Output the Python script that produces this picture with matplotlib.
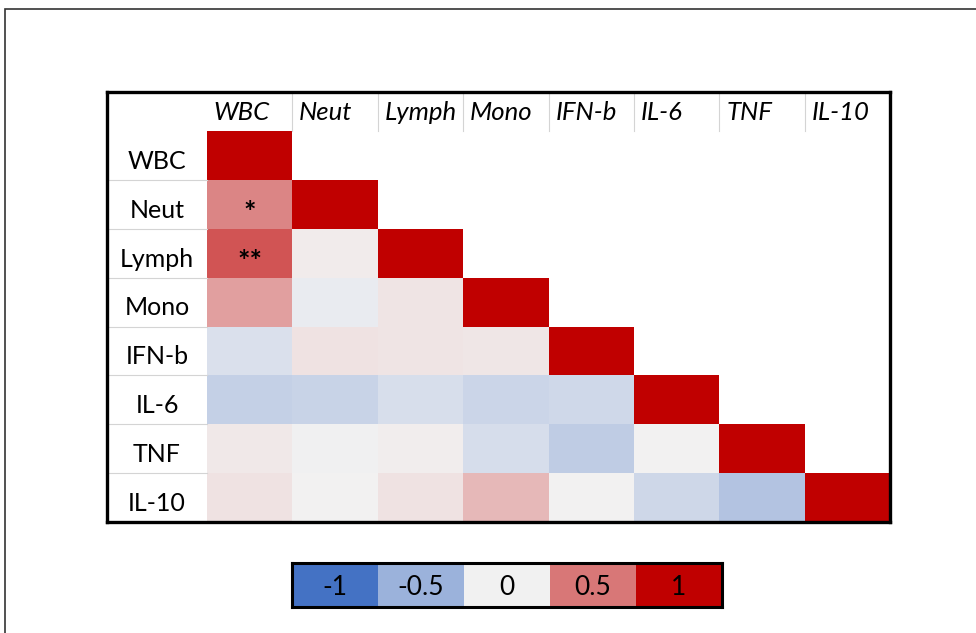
import numpy as np
import matplotlib.pyplot as plt
from matplotlib.colors import LinearSegmentedColormap
from matplotlib.patches import Rectangle

plt.rcParams['font.family'] = ['Lato', 'DejaVu Sans']

labels = ['WBC', 'Neut', 'Lymph', 'Mono', 'IFN-b', 'IL-6', 'TNF', 'IL-10']

# lower triangle of the correlation matrix, row by row
r_wbc = [1.0]
r_neut = [0.45, 1.0]
r_lymph = [0.65, 0.03, 1.0]
r_mono = [0.34, -0.05, 0.06, 1.0]
r_ifnb = [-0.14, 0.07, 0.06, 0.05, 1.0]
r_il6 = [-0.26, -0.24, -0.15, -0.22, -0.20, 1.0]
r_tnf = [0.04, -0.01, 0.02, -0.16, -0.29, 0.0, 1.0]
r_il10 = [0.07, 0.0, 0.07, 0.24, 0.0, -0.21, -0.36, 1.0]
rows = [r_wbc, r_neut, r_lymph, r_mono, r_ifnb, r_il6, r_tnf, r_il10]

# significance marks: (row, col, text)
stars = [(1, 0, '*'), (2, 0, '**')]

legend_vals = [-1, -0.5, 0, 0.5, 1]
legend_labels = ['-1', '-0.5', '0', '0.5', '1']

cmap = LinearSegmentedColormap.from_list('bwr_xl', ['#4472C4', '#F2F2F2', '#C00000'])

n = len(labels)
mat = np.full((n, n), np.nan)
for i, r in enumerate(rows):
    mat[i, :len(r)] = r
mat = np.ma.masked_invalid(mat)

W, H = 976, 633
fig = plt.figure(figsize=(W / 100, H / 100), dpi=100)

# outer frame (clipped on right/bottom like the screenshot)
fig.add_artist(Rectangle((5 / W, -0.05), 1.1, 1 - 9 / H + 0.05, transform=fig.transFigure,
                         fill=False, edgecolor='#333333', linewidth=1.2))

# table axes
left, right, top, bottom = 107, 890, 92, 522
ax = fig.add_axes([left / W, 1 - bottom / H, (right - left) / W, (bottom - top) / H])
cell_w = (right - 207) / n
lab_w = (207 - left) / cell_w
hdr_h = 0.8
ax.set_xlim(-lab_w, n)
ax.set_ylim(n, -hdr_h)
ax.pcolormesh(np.arange(n + 1), np.arange(n + 1), mat, cmap=cmap, vmin=-1, vmax=1)
ax.set_xticks([])
ax.set_yticks([])
for s in ax.spines.values():
    s.set_linewidth(2.4)
    s.set_color('black')

for i, lab in enumerate(labels):
    ax.text(-lab_w / 2, i + 0.62, lab, ha='center', va='center', fontsize=18)
    ax.text(i + 0.08, -hdr_h / 2 + 0.02, lab, ha='left', va='center', fontsize=18.5,
            style='italic')
for i in range(1, n):
    ax.plot([-lab_w, 0], [i, i], color='#d4d4d4', lw=0.8)
    ax.plot([i, i], [-hdr_h, 0], color='#d4d4d4', lw=0.8)

for r, c, t in stars:
    ax.text(c + 0.5, r + 0.68, t, ha='center', va='center', fontsize=21, fontweight='bold')

# legend strip
lax = fig.add_axes([292 / W, 1 - 607 / H, 430 / W, 44 / H])
lax.imshow([legend_vals], cmap=cmap, vmin=-1, vmax=1, aspect='auto',
           extent=(0, len(legend_vals), 1, 0))
for k, t in enumerate(legend_labels):
    lax.text(k + 0.5, 0.55, t, ha='center', va='center', fontsize=19)
lax.set_xticks([])
lax.set_yticks([])
for s in lax.spines.values():
    s.set_linewidth(2.2)
    s.set_color('black')

fig.savefig('out.png', dpi=100)
